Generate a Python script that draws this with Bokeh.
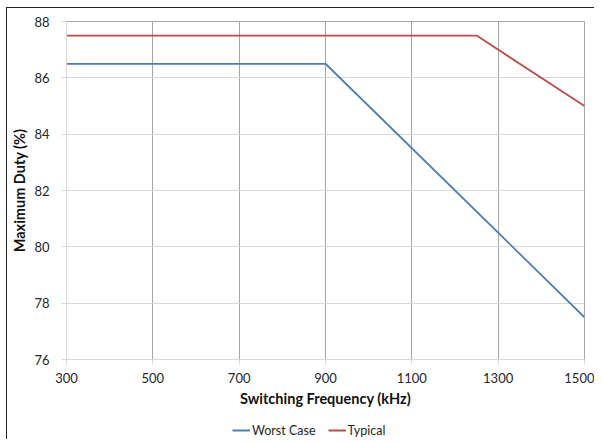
from bokeh.plotting import figure
from bokeh.models import Legend, LegendItem, FixedTicker, Range1d
from bokeh.layouts import column
from bokeh.embed import file_html
from bokeh.resources import INLINE

# Data
worst_x = [300, 900, 1500]
worst_y = [86.5, 86.5, 77.5]
typ_x = [300, 1250, 1500]
typ_y = [87.5, 87.5, 85.0]
x_ticks = [300, 500, 700, 900, 1100, 1300, 1500]
y_ticks = [76, 78, 80, 82, 84, 86, 88]
series_names = ["Worst Case", "Typical"]
series_colors = ["#4a7ebb", "#be4b48"]

FONT = "Lato"
NAN = float("nan")

p = figure(frame_width=518, frame_height=338, output_backend="svg", toolbar_location=None,
           x_range=Range1d(300, 1500), y_range=Range1d(76, 88),
           min_border_left=59, min_border_top=13, min_border_right=10, min_border_bottom=46)
p.outline_line_color = "#a6a6a6"
p.outline_line_width = 1

r1 = p.line(worst_x, worst_y, line_color=series_colors[0], line_width=1.75)
r2 = p.line(typ_x, typ_y, line_color=series_colors[1], line_width=1.75)

p.xaxis.ticker = FixedTicker(ticks=x_ticks)
p.yaxis.ticker = FixedTicker(ticks=y_ticks)
p.xgrid.ticker = FixedTicker(ticks=x_ticks[1:])
p.xgrid.grid_line_color = "#a6a6a6"
p.ygrid.grid_line_color = "#d9d9d9"

for ax in (p.xaxis, p.yaxis):
    ax.axis_line_color = "#d9d9d9"
    ax.major_tick_line_color = "#d9d9d9"
    ax.major_tick_out = 5
    ax.major_tick_in = 0
    ax.minor_tick_line_color = None
    ax.major_label_text_font = FONT
    ax.major_label_text_font_size = "13px"
    ax.major_label_text_color = "#262626"
    ax.axis_label_text_font = FONT
    ax.axis_label_text_font_size = "14.5px"
    ax.axis_label_text_font_style = "bold"
    ax.axis_label_text_color = "#111111"

p.xaxis.axis_label = "Switching Frequency (kHz)"
p.yaxis.axis_label = "Maximum Duty (%)"
p.xaxis.major_label_standoff = 8
p.xaxis.axis_label_standoff = 4
p.yaxis.major_label_standoff = 12
p.yaxis.axis_label_standoff = 3

# Legend strip below the chart (proxy renderers carry only the legend styling)
p2 = figure(frame_width=518, frame_height=30, output_backend="svg", toolbar_location=None,
            x_range=Range1d(0, 1), y_range=Range1d(0, 1),
            min_border_left=59, min_border_top=0, min_border_right=10, min_border_bottom=0)
p2.axis.visible = False
p2.grid.visible = False
p2.outline_line_color = None
l1 = p2.line(x=[NAN, NAN], y=[NAN, NAN], line_color=series_colors[0], line_width=2)
l2 = p2.line(x=[NAN, NAN], y=[NAN, NAN], line_color=series_colors[1], line_width=2)

legend = Legend(items=[LegendItem(label=series_names[0], renderers=[l1]),
                       LegendItem(label=series_names[1], renderers=[l2])],
                orientation="horizontal", location=(166, 1))
legend.label_text_font = FONT
legend.label_text_font_size = "12.5px"
legend.label_text_color = "#262626"
legend.glyph_width = 18
legend.glyph_height = 16
legend.label_height = 16
legend.label_standoff = 2
legend.spacing = 12
legend.border_line_color = None
legend.background_fill_alpha = 0
legend.margin = 0
legend.padding = 0
p2.add_layout(legend, "center")

layout = column(p, p2, spacing=0)
layout.styles = {"border-top": "1px solid #222", "border-left": "1px solid #222",
                 "margin-left": "6px", "margin-top": "7px"}

open("out.html", "w").write(file_html(layout, INLINE))
